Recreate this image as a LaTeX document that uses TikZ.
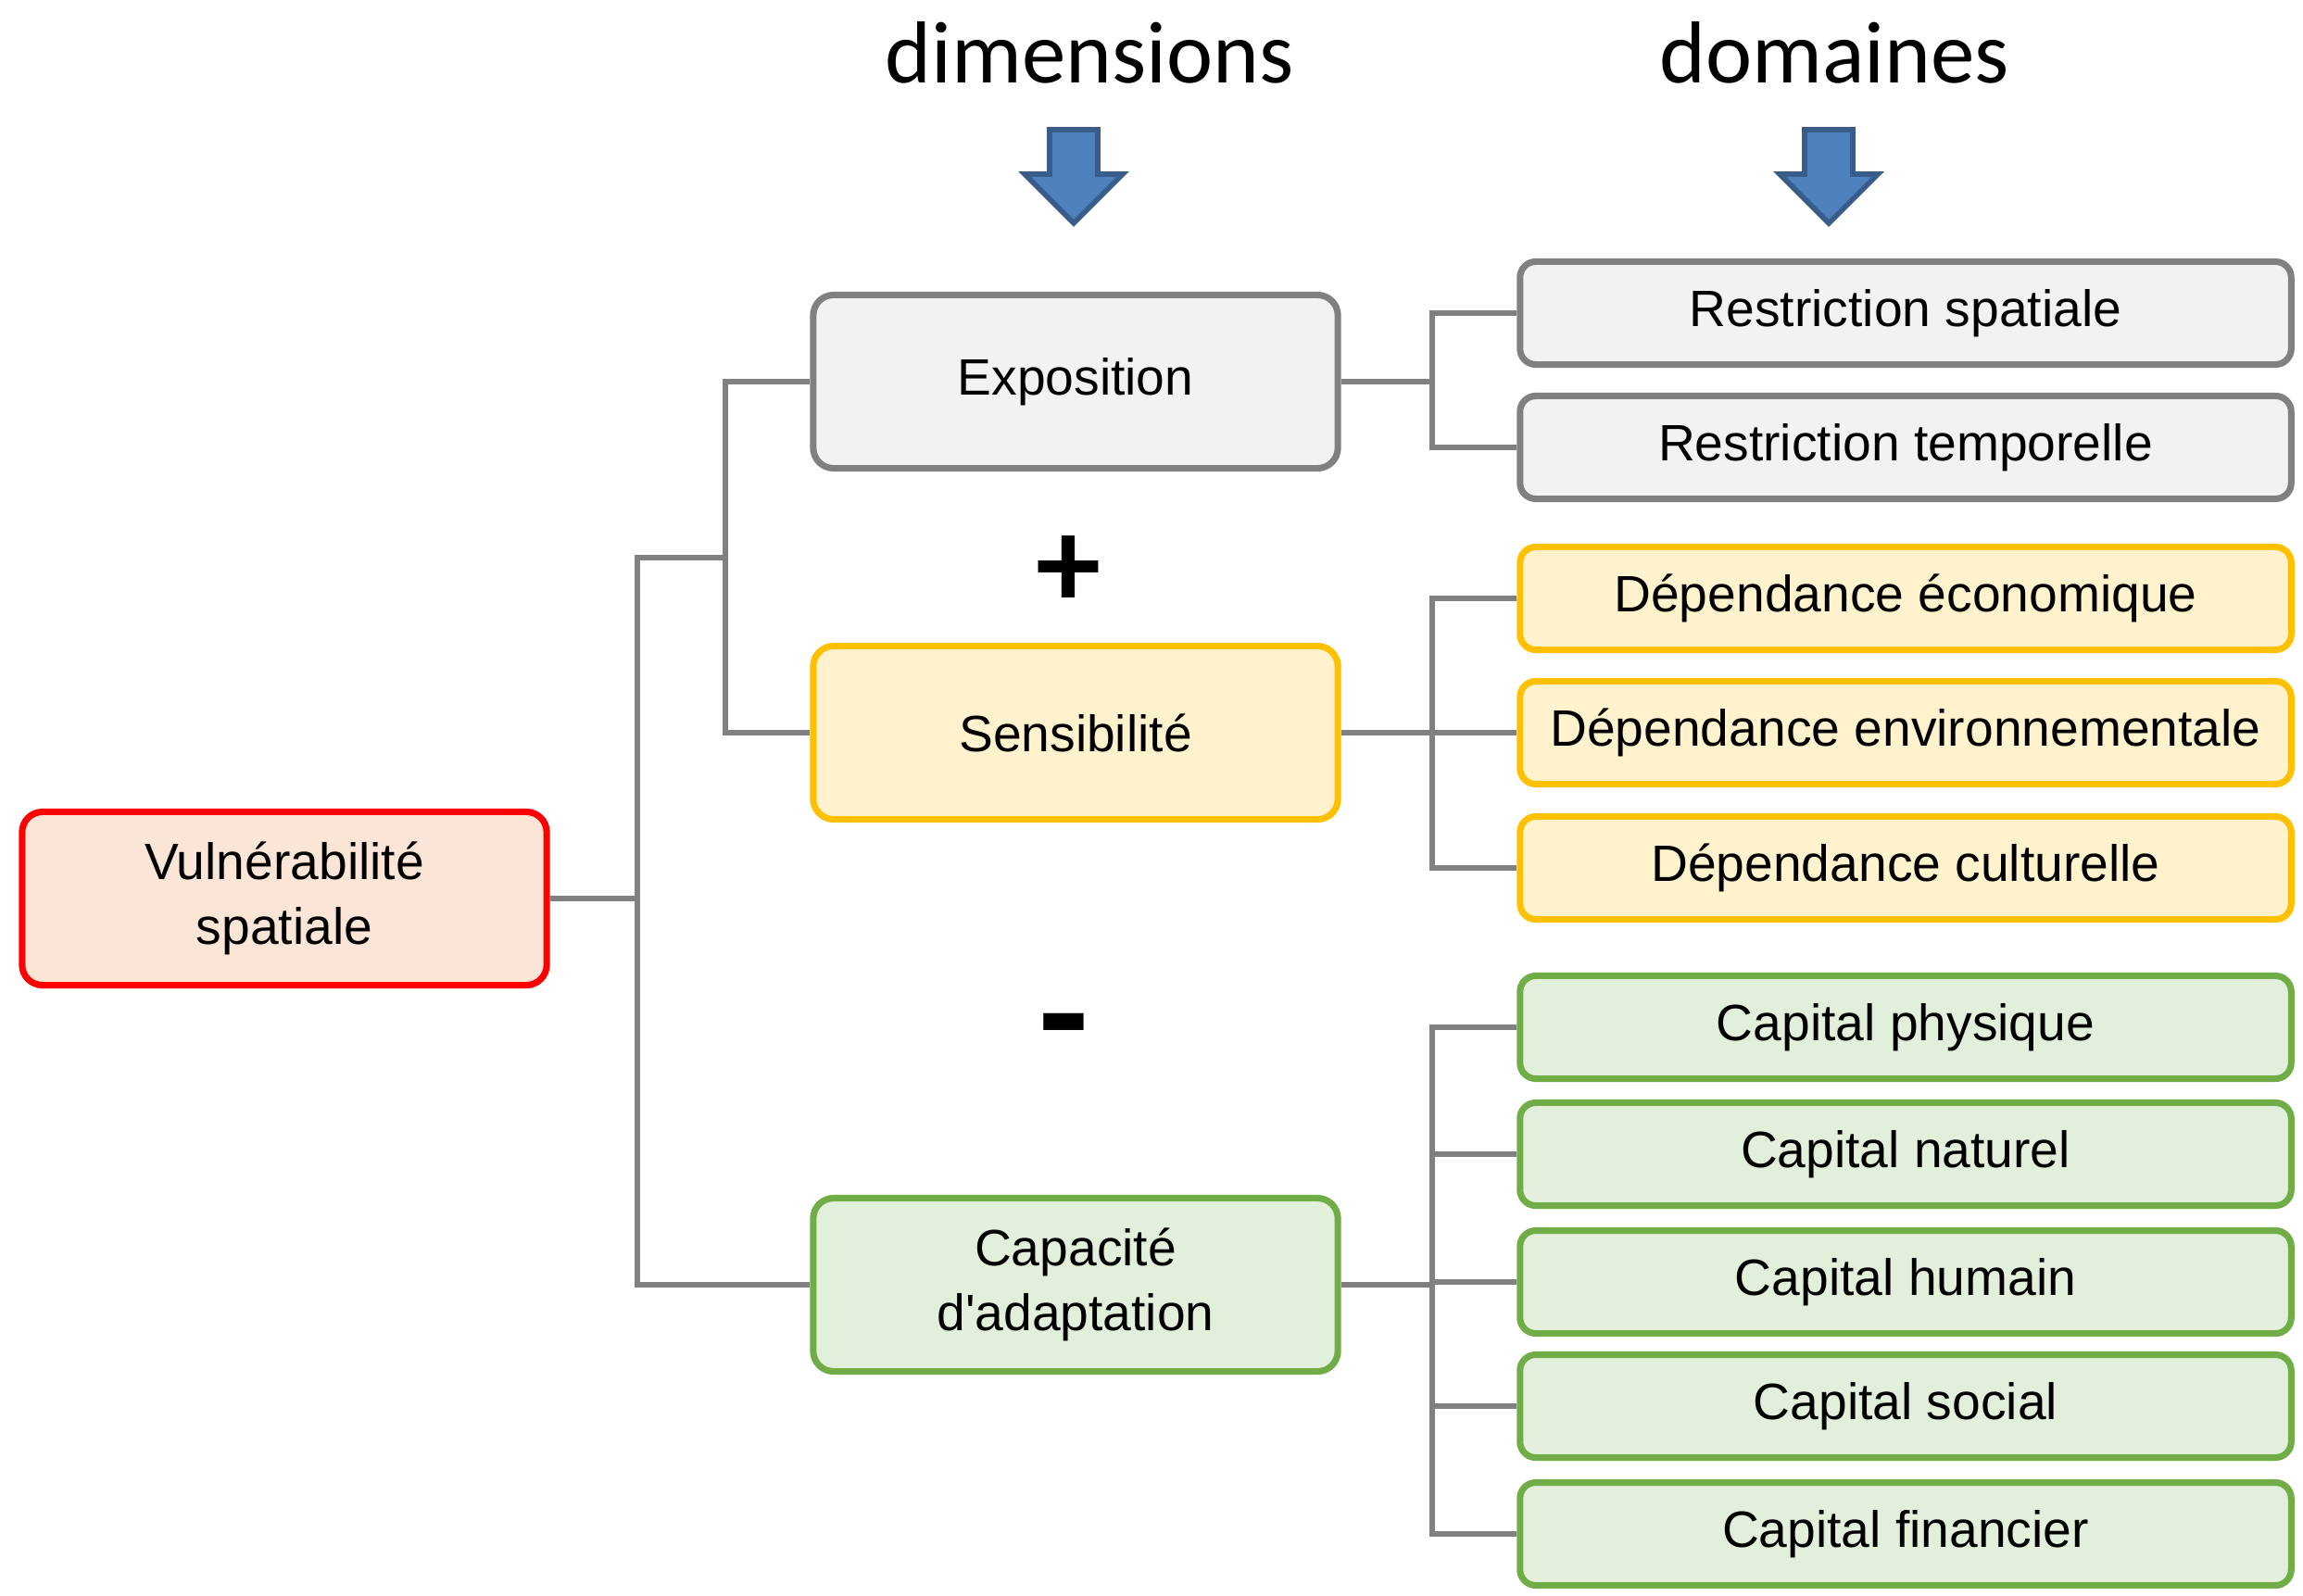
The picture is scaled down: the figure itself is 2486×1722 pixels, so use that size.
\documentclass[tikz,border=0pt]{standalone}
\usepackage{fontspec}
\setmainfont{Liberation Sans}
\newfontfamily\boxfont{Liberation Sans}
\newfontfamily\headfont{Carlito}
\usepackage{xcolor}
\usepackage{tikz}
\usetikzlibrary{
	calc,
	positioning
}
\definecolor{LinkGrey}{RGB}{128,128,128}
\definecolor{GreyFill}{RGB}{242,242,242}
\definecolor{GreyEdge}{RGB}{128,128,128}
\definecolor{YellowFill}{RGB}{255,242,204}
\definecolor{YellowEdge}{RGB}{255,192,0}
\definecolor{GreenFill}{RGB}{226,239,218}
\definecolor{GreenEdge}{RGB}{112,173,71}
\definecolor{RedFill}{RGB}{251,229,214}
\definecolor{RedEdge}{RGB}{255,0,0}
\definecolor{ArrowBlue}{RGB}{79,129,189}
\definecolor{ArrowEdge}{RGB}{56,93,138}

\begin{document}
\begin{tikzpicture}[x=0.01cm, y=-0.01cm,
		box/.style={line width=2pt, rounded corners=0.22cm, align=center, inner sep=0pt,
			font=\boxfont\fontsize{15.7}{19.8}\selectfont},
		dimbox/.style={box, minimum width=5.66cm, minimum height=1.87cm},
		dombox/.style={box, minimum width=8.32cm, minimum height=1.11cm, rounded corners=0.17cm},
		grey/.style={draw=GreyEdge, fill=GreyFill},
		yellow/.style={draw=YellowEdge, fill=YellowFill},
		green/.style={draw=GreenEdge, fill=GreenFill},
		link/.style={draw=LinkGrey, line width=1.5pt},
		head/.style={anchor=base, font=\headfont\fontsize{27}{32}\selectfont}]
		\useasboundingbox (0,0) rectangle (2486,1722);
		
		% titres et fleches
		\node[head] (tdim) at (1176,90) {dimensions};
		\node[head] (tdom) at (1980,90) {domaines};
		\foreach \ax in {1159, 1974} {
			\filldraw[fill=ArrowBlue, draw=ArrowEdge, line width=1.6pt, line join=miter]
				(\ax-26,140) -- (\ax+26,140) -- (\ax+26,188) -- (\ax+53,188)
				-- (\ax,241) -- (\ax-53,188) -- (\ax-26,188) -- cycle;
		}
		
		% racine et dimensions
		\node[dimbox, draw=RedEdge, fill=RedFill] (vuln) at (307,970) {Vulnérabilité\\spatiale};
		\node[dimbox, grey] (expo) at (1161,412) {Exposition};
		\node[dimbox, yellow] (sens) at (1161,791) {Sensibilité};
		\node[dimbox, green] (capa) at (1161,1387) {Capacité\\d'adaptation};
		
		\node[font=\headfont\bfseries\fontsize{40}{40}\selectfont] (plus) at (1154,618) {+};
		\node[font=\headfont\bfseries\fontsize{50}{50}\selectfont] (minus) at (1148,1124) {-};
		
		% domaines
		\node[dombox, grey] (rs) at (2057,338) {Restriction spatiale};
		\node[dombox, grey] (rt) at (2057,483) {Restriction temporelle};
		\node[dombox, yellow] (deco) at (2057,646) {Dépendance économique};
		\node[dombox, yellow] (denv) at (2057,791) {Dépendance environnementale};
		\node[dombox, yellow] (dcul) at (2057,937) {Dépendance culturelle};
		\node[dombox, green] (cphy) at (2057,1109) {Capital physique};
		\node[dombox, green] (cnat) at (2057,1246) {Capital naturel};
		\node[dombox, green] (chum) at (2057,1384) {Capital humain};
		\node[dombox, green] (csoc) at (2057,1518) {Capital social};
		\node[dombox, green] (cfin) at (2057,1656) {Capital financier};
		
		% liaisons gauche
		\coordinate (j1) at (688,970);
		\coordinate (j2) at (783,602);
		\draw[link] (vuln.east) -- (j1);
		\draw[link] (expo.west) -| (j2) |- (sens.west);
		\draw[link] (j2) -| (j1) |- (capa.west);
		
		% liaisons droite
		\coordinate (k1) at (1546,412);
		\coordinate (k2) at (1546,791);
		\coordinate (k3) at (1546,1387);
		\draw[link] (expo.east) -- (k1);
		\draw[link] (rs.west) -| (k1) |- (rt.west);
		\draw[link] (sens.east) -- (k2);
		\draw[link] (deco.west) -| (k2) |- (dcul.west);
		\draw[link] (k2) -- (denv.west);
		\draw[link] (capa.east) -- (k3);
		\draw[link] (cphy.west) -| (k3) |- (cfin.west);
		\foreach \n in {cnat, chum, csoc}
			\draw[link] (k3 |- \n.west) -- (\n.west);
	\end{tikzpicture}
\end{document}
